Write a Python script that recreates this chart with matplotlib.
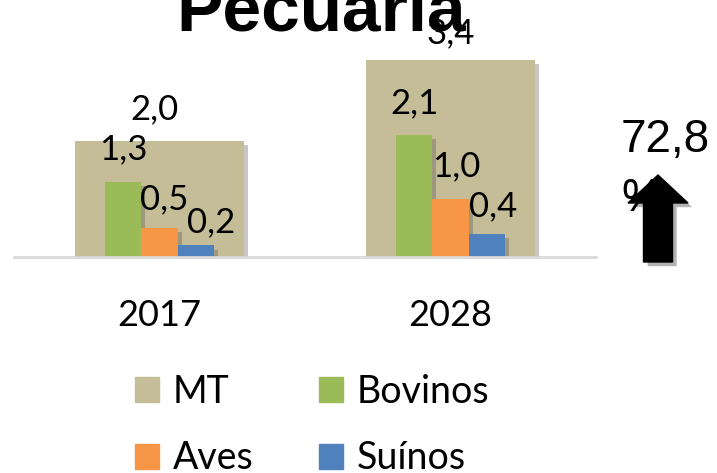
import matplotlib
matplotlib.use('Agg')
import matplotlib.pyplot as plt
import matplotlib.patheffects as pe
from matplotlib.patches import FancyArrow, Patch
import numpy as np

# dados
anos = ['2017', '2028']
mt = [2.0, 3.4]
bovinos = [1.3, 2.1]
aves = [0.5, 1.0]
suinos = [0.2, 0.4]
nomes = ['MT', 'Bovinos', 'Aves', 'Suínos']
variacao = '72,8\n%'

cores = ['#C4BD97', '#9BBB59', '#F79646', '#4F81BD']
# deslocamento dos rotulos (pixels), um por ano
desloc = {
    'MT': [(-5, 32), (0, 27)],
    'Bovinos': [(0, 32), (0, 32)],
    'Aves': [(5, 29), (6, 33)],
    'Suínos': [(15, 23), (6, 28)],
}

fig = plt.figure(figsize=(7.17, 4.73), dpi=100)
ax = fig.add_axes([14 / 717, 1 - 257 / 473, 582 / 717, 255 / 473])
x = np.arange(len(anos))

sombra = [pe.SimplePatchShadow(offset=(3, -3), shadow_rgbFace='#444444', alpha=0.3), pe.Normal()]

def rotula(xs, vals, nome):
    for xi, v, (dx, dy) in zip(xs, vals, desloc[nome]):
        ax.annotate(f'{v:.1f}'.replace('.', ','), (xi, v), xytext=(dx, dy),
                    textcoords='offset pixels', ha='center', va='center',
                    fontsize=25, family='Lato', zorder=5, annotation_clip=False)

ax.bar(x, mt, width=0.58, color=cores[0], zorder=1, path_effects=sombra)
rotula(x, mt, 'MT')

w = 0.125
for i, (vals, nome) in enumerate(zip([bovinos, aves, suinos], nomes[1:])):
    xs = x + (i - 1) * w
    ax.bar(xs, vals, width=w, color=cores[i + 1], zorder=2, path_effects=sombra)
    rotula(xs, vals, nome)

ax.set_xlim(-0.5, 1.5)
ax.set_ylim(0, 4.4)
ax.set_xticks(x, anos, fontsize=26, family='Lato')
ax.set_yticks([])
ax.tick_params(axis='x', length=0, pad=30)
for s in ['top', 'left', 'right']:
    ax.spines[s].set_visible(False)
ax.spines['bottom'].set_color('#D9D9D9')
ax.spines['bottom'].set_linewidth(2)

fig.text(321 / 717, 1 - 32 / 473, 'Pecuária', ha='center', va='baseline',
         fontsize=50, fontweight='bold', family='Liberation Sans')

# seta e variacao
ov = fig.add_axes([0, 0, 1, 1], zorder=5)
ov.set_xlim(0, 717)
ov.set_ylim(473, 0)
ov.axis('off')
ov.text(621, 118, variacao, ha='left', va='top', fontsize=33,
        family='Liberation Sans', linespacing=1.45, zorder=1)
seta = FancyArrow(658, 262, 0, -87, width=29, head_width=60, head_length=28,
                  length_includes_head=True, color='black', zorder=2,
                  path_effects=[pe.SimplePatchShadow(offset=(3, -3), alpha=0.3), pe.Normal()])
ov.add_patch(seta)

ordem = [0, 2, 1, 3]
handles = [Patch(color=cores[i]) for i in ordem]
fig.legend(handles, [nomes[i] for i in ordem], loc='center',
           bbox_to_anchor=(312 / 717, 1 - 425 / 473), ncol=2, frameon=False,
           prop={'family': 'Lato', 'size': 27}, handlelength=0.65, handleheight=0.65,
           handletextpad=0.35, columnspacing=1.75, labelspacing=0.82)

fig.savefig('out.png', dpi=100)
